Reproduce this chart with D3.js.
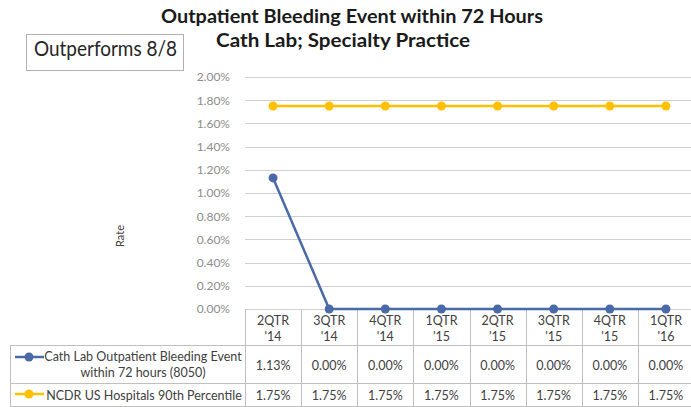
<!DOCTYPE html>
<html>
<head>
<meta charset="utf-8">
<script src="https://cdn.jsdelivr.net/npm/d3@7"></script>
<style>
  body { margin: 0; background: #fff; }
  svg { display: block; font-family: Lato, "Open Sans", sans-serif; }
</style>
</head>
<body>
<div id="chart"></div>
<script>
// data
const quarters = ["2QTR\n'14", "3QTR\n'14", "4QTR\n'14", "1QTR\n'15", "2QTR\n'15", "3QTR\n'15", "4QTR\n'15", "1QTR\n'16"];
const cathLab = [1.13, 0.00, 0.00, 0.00, 0.00, 0.00, 0.00, 0.00];
const ncdr90 = [1.75, 1.75, 1.75, 1.75, 1.75, 1.75, 1.75, 1.75];
const yTicks = [0, 0.2, 0.4, 0.6, 0.8, 1.0, 1.2, 1.4, 1.6, 1.8, 2.0];
const seriesNames = [["Cath Lab Outpatient Bleeding Event", "within 72 hours (8050)"], ["NCDR US Hospitals 90th Percentile"]];

const width = 691, height = 407;
const blue = "#4a69a7", gold = "#ffc000", grid = "#d0d0d0", tableLine = "#bfbfbf";

const svg = d3.select("#chart").append("svg")
    .attr("width", width)
    .attr("height", height);

// plot area
const plot = { left: 245, right: 694, top: 77, bottom: 309 };

const x = d3.scaleBand()
    .domain(quarters)
    .range([plot.left, plot.right]);

const y = d3.scaleLinear()
    .domain([0, 2])
    .range([plot.bottom, plot.top]);

// title
svg.append("text")
    .attr("x", 352).attr("y", 23)
    .attr("text-anchor", "middle")
    .attr("textLength", 382).attr("lengthAdjust", "spacingAndGlyphs")
    .style("font-size", "18px").style("font-weight", "bold").style("fill", "#1a1a1a")
    .text("Outpatient Bleeding Event within 72 Hours");
svg.append("text")
    .attr("x", 343).attr("y", 47)
    .attr("text-anchor", "middle")
    .attr("textLength", 254).attr("lengthAdjust", "spacingAndGlyphs")
    .style("font-size", "18px").style("font-weight", "bold").style("fill", "#1a1a1a")
    .text("Cath Lab; Specialty Practice");

// outperforms box
svg.append("rect")
    .attr("x", 26.5).attr("y", 34.5).attr("width", 157).attr("height", 36)
    .attr("fill", "#fff").attr("stroke", "#b0b0b0");
svg.append("text")
    .attr("x", 105.5).attr("y", 56)
    .attr("text-anchor", "middle")
    .attr("textLength", 143).attr("lengthAdjust", "spacingAndGlyphs")
    .style("font-size", "21px").style("fill", "#262626")
    .text("Outperforms 8/8");

// gridlines
svg.append("g")
    .selectAll("line")
    .data(yTicks)
    .join("line")
    .attr("x1", plot.left).attr("x2", plot.right)
    .attr("y1", d => Math.round(y(d)) + 0.5)
    .attr("y2", d => Math.round(y(d)) + 0.5)
    .attr("stroke", grid).attr("stroke-width", 1.2);

// y axis labels
const yAxis = svg.append("g")
    .attr("transform", `translate(${plot.left - 12},0)`)
    .call(d3.axisLeft(y).tickValues(yTicks).tickSize(0).tickFormat(d => d.toFixed(2) + "%"));
yAxis.select(".domain").remove();
yAxis.selectAll("text")
    .style("font-family", "Lato, sans-serif")
    .style("font-size", "12px")
    .style("fill", "#8c8c8c")
    .attr("dx", 0);

// y axis title
svg.append("text")
    .attr("transform", "translate(124,236) rotate(-90)")
    .attr("text-anchor", "middle")
    .style("font-size", "11px").style("fill", "#404040")
    .text("Rate");

// table
const rows = { head: 309, r1: 345, r2: 383, bottom: 406 };
const tbl = svg.append("g").attr("stroke", tableLine).attr("stroke-width", 1);

// vertical column lines
tbl.selectAll("line.col")
    .data(quarters.map(q => x(q)).concat([plot.right]))
    .join("line")
    .attr("class", "col")
    .attr("x1", d => Math.round(d) + 0.5).attr("x2", d => Math.round(d) + 0.5)
    .attr("y1", rows.head).attr("y2", rows.bottom);

// horizontal row lines
[rows.r1, rows.r2, rows.bottom].forEach(yy => {
    tbl.append("line")
        .attr("x1", 10).attr("x2", plot.right)
        .attr("y1", yy + 0.5).attr("y2", yy + 0.5);
});
tbl.append("line")
    .attr("x1", 10.5).attr("x2", 10.5)
    .attr("y1", rows.r1).attr("y2", rows.bottom);

// category header labels
const head = svg.append("g");
quarters.forEach(q => {
    const parts = q.split("\n");
    const t = head.append("text")
        .attr("x", x(q) + x.bandwidth() / 2)
        .attr("text-anchor", "middle")
        .style("font-size", "12.5px").style("fill", "#404040");
    t.append("tspan").attr("x", x(q) + x.bandwidth() / 2).attr("y", 325).text(parts[0]);
    t.append("tspan").attr("x", x(q) + x.bandwidth() / 2).attr("y", 341).text(parts[1]);
});

// value cells
const fmt = d => d.toFixed(2) + "%";
[[cathLab, 370], [ncdr90, 400]].forEach(([vals, yy]) => {
    svg.append("g").selectAll("text")
        .data(vals)
        .join("text")
        .attr("x", (d, i) => x(quarters[i]) + x.bandwidth() / 2)
        .attr("y", yy)
        .attr("text-anchor", "middle")
        .style("font-size", "12.5px").style("fill", "#404040")
        .text(fmt);
});

// legend keys in table
function legendKey(color, cy) {
    svg.append("line")
        .attr("x1", 15).attr("x2", 44).attr("y1", cy).attr("y2", cy)
        .attr("stroke", color).attr("stroke-width", 2.5);
    svg.append("circle")
        .attr("cx", 29).attr("cy", cy).attr("r", 4.5)
        .attr("fill", color);
}
legendKey(blue, 357);
legendKey(gold, 394);

svg.append("text")
    .attr("text-anchor", "middle")
    .style("font-size", "12.5px").style("fill", "#404040")
    .selectAll("tspan")
    .data(seriesNames[0])
    .join("tspan")
    .attr("x", 143)
    .attr("y", (d, i) => 361 + i * 16)
    .text(d => d);

svg.append("text")
    .attr("x", 144).attr("y", 400)
    .attr("text-anchor", "middle")
    .style("font-size", "12.5px").style("fill", "#404040")
    .text(seriesNames[1][0]);

// series lines
const line = d3.line()
    .x((d, i) => x(quarters[i]) + x.bandwidth() / 2)
    .y(d => y(d));

[[ncdr90, gold], [cathLab, blue]].forEach(([vals, color]) => {
    svg.append("path")
        .datum(vals)
        .attr("fill", "none")
        .attr("stroke", color)
        .attr("stroke-width", 2.5)
        .attr("d", line);
    svg.append("g").selectAll("circle")
        .data(vals)
        .join("circle")
        .attr("cx", (d, i) => x(quarters[i]) + x.bandwidth() / 2)
        .attr("cy", d => y(d))
        .attr("r", 4.5)
        .attr("fill", color);
});
</script>
</body>
</html>
